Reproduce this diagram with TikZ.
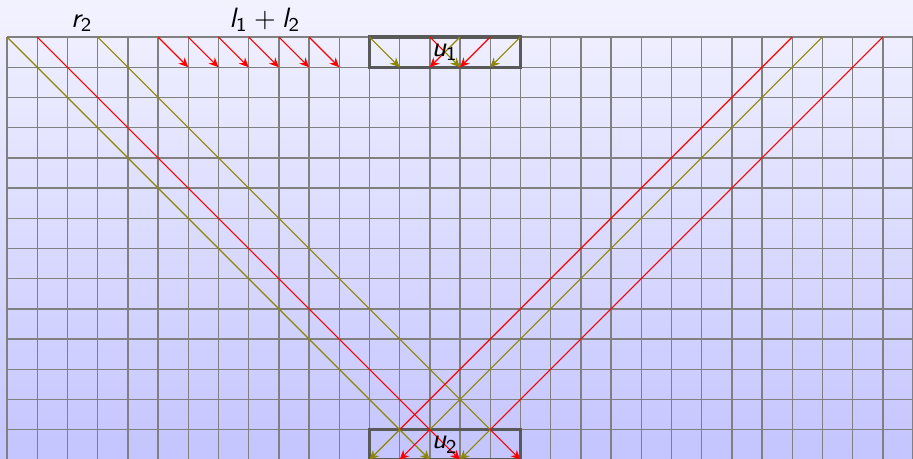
\documentclass[tikz,border=0pt]{standalone}
\usetikzlibrary{arrows.meta}
\DeclareMathAlphabet{\mathsfit}{OT1}{cmss}{m}{sl}
\newcommand{\sv}[2]{\mathsfit{#1}_{\mathsf{#2}}}
\tikzset{
  cellgrid/.style={draw=gray, line width=0.5pt, step=0.38cm},
  boxfrm/.style={rectangle, draw=black!65, line width=1.1pt, minimum width=1.9cm,
                 minimum height=0.38cm, inner sep=0pt},
  rray/.style={draw=red, line width=0.4pt},
  oray/.style={draw=olive, line width=0.4pt},
  arr/.style={-{Stealth[length=1.2mm,width=1.1mm]}},
  lab/.style={anchor=base, inner sep=0pt},
}

\begin{document}
\begin{tikzpicture}[x=0.38cm, y=0.38cm]
\useasboundingbox (-0.232,-13.97) rectangle (30.0,1.225);
\clip (-0.232,-13.97) rectangle (30.0,1.225);
\shade[top color=blue!5, bottom color=blue!23] (-0.232,-13.97) rectangle (30.0,1.225);
\draw[cellgrid] (0,-15) grid (30,0);
\foreach \i in {0,...,30} {
  \coordinate (t\i) at (\i,0);
  \coordinate (s\i) at (\i,-1);
  \coordinate (m\i) at (\i,-13);
  \coordinate (b\i) at (\i,-14);
}
\coordinate (x1) at (14.5,-0.5);
\node[boxfrm] (box1) at (14.5,-0.5) {};
\node[boxfrm] (box2) at (14.5,-13.5) {};

\foreach \i in {5,...,10} {
  \pgfmathtruncatemacro\j{\i+1}
  \draw[rray, arr] (t\i) -- (s\j);
}
\draw[oray, arr] (t12) -- (s13);
\draw[rray, arr] (t14) -- (x1) -- (s14);
\draw[oray, arr] (t15) -- (x1) -- (s15);
\draw[rray, arr] (t16) -- (s15);
\draw[oray, arr] (t17) -- (s16);

\draw[oray] (t0) -- (m13);
\draw[rray] (t1) -- (m14);
\draw[oray] (t3) -- (m16);
\draw[rray] (t26) -- (m13);
\draw[oray] (t27) -- (m14);
\draw[rray] (t29) -- (m16);

\draw[oray, arr] (m13) -- (b12);
\draw[oray, arr] (m13) -- (b14);
\draw[rray, arr] (m14) -- (b13);
\draw[rray, arr] (m14) -- (b15);
\draw[oray, arr] (m16) -- (b15);
\draw[rray, arr] (m16) -- (b17);

\node[lab] (r2) at (2.48,0.33) {$\sv{r}{2}$};
\node[lab] (l12) at (8.54,0.33) {$\sv{l}{1}+\sv{l}{2}$};
\node (u1) at (box1.center) {$\sv{u}{1}$};
\node (u2) at (box2.center) {$\sv{u}{2}$};
\end{tikzpicture}
\end{document}
